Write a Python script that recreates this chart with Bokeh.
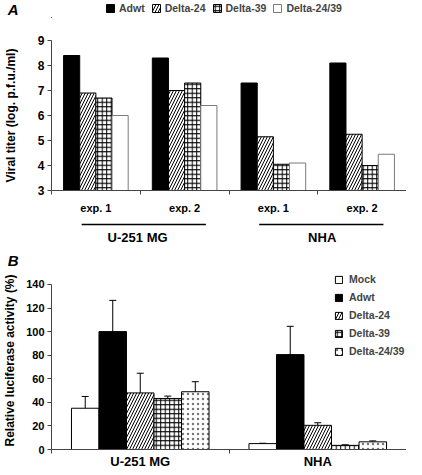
import numpy as np
from bokeh.plotting import figure
from bokeh.models import (Range1d, FixedTicker, Legend, LegendItem,
                          Whisker, TeeHead, ColumnDataSource)
from bokeh.layouts import column
from bokeh.embed import file_html
from bokeh.resources import INLINE

FONT = "Liberation Sans"

# ---------------- Panel A data ----------------
a_exp_labels = ["exp. 1", "exp. 2", "exp. 1", "exp. 2"]
a_cell_lines = ["U-251 MG", "NHA"]
a_series = ["Adwt", "Delta-24", "Delta-39", "Delta-24/39"]
a_adwt = [8.4, 8.3, 7.3, 8.1]
a_delta24 = [6.9, 7.0, 5.15, 5.25]
a_delta39 = [6.7, 7.3, 4.05, 4.0]
a_delta2439 = [6.0, 6.4, 4.1, 4.45]
a_yticks = [3, 4, 5, 6, 7, 8, 9]
a_ylabel = "Viral titer (log. p.f.u./ml)"

# ---------------- Panel B data ----------------
b_cell_lines = ["U-251 MG", "NHA"]
b_series = ["Mock", "Adwt", "Delta-24", "Delta-39", "Delta-24/39"]
b_mock = [35, 5]
b_mock_err = [10, 0.3]
b_adwt = [100, 80.5]
b_adwt_err = [26.5, 24]
b_delta24 = [48, 20.5]
b_delta24_err = [16.7, 2.2]
b_delta39 = [43.3, 3.5]
b_delta39_err = [2, 0.5]
b_delta2439 = [49, 6.5]
b_delta2439_err = [8.5, 0.8]
b_yticks = [0, 20, 40, 60, 80, 100, 120, 140]
b_ylabel = "Relative luciferase activity (%)"

AXIS_COLOR = "#444444"
LEFT = 46

STY_BLACK = dict(fill_color="black", line_color="black")
STY_DIAG = dict(fill_color="white", line_color="black", hatch_pattern="/",
                hatch_scale=6, hatch_weight=1, hatch_color="black")
STY_GRID = dict(fill_color="white", line_color="black", hatch_pattern="+",
                hatch_scale=4.5, hatch_weight=1, hatch_color="black")
STY_DOTS = dict(fill_color="white", line_color="black", hatch_pattern=".",
                hatch_scale=5, hatch_weight=0.5, hatch_color="#777777")
STY_WHITE_GRAY = dict(fill_color="white", line_color="#7a7a7a")
STY_WHITE = dict(fill_color="white", line_color="black")


def style_common(p):
    p.outline_line_color = None
    p.xgrid.visible = False
    p.ygrid.visible = False
    for ax in (p.xaxis[0], p.yaxis[0]):
        ax.axis_line_color = AXIS_COLOR
        ax.major_tick_line_color = AXIS_COLOR
        ax.minor_tick_line_color = AXIS_COLOR
        ax.major_label_text_font = FONT
        ax.major_label_text_font_style = "bold"
        ax.major_label_text_color = "black"
        ax.axis_label_text_font = FONT
        ax.axis_label_text_font_style = "bold"
        ax.axis_label_text_color = "black"


def strip(height, x_range, letter, letter_y):
    """Full-width strip sharing the panel's x scale; the panel letter is the
    single tick label of its (line-less) left axis."""
    s = figure(width=406, height=height, x_range=x_range, y_range=Range1d(0, height),
               output_backend="svg", toolbar_location=None, title_location=None,
               x_axis_location=None,
               min_border_left=LEFT, min_border_right=0, min_border_top=0, min_border_bottom=0)
    s.outline_line_color = None
    s.xgrid.visible = False
    s.ygrid.visible = False
    ax = s.yaxis[0]
    ax.ticker = FixedTicker(ticks=[letter_y], minor_ticks=[])
    ax.major_label_overrides = {float(letter_y): letter}
    ax.axis_line_color = None
    ax.major_tick_line_color = None
    ax.major_tick_out = 0
    ax.major_tick_in = 0
    ax.major_label_standoff = 33
    ax.major_label_text_font = FONT
    ax.major_label_text_font_style = "bold italic"
    ax.major_label_text_font_size = "15px"
    ax.major_label_text_color = "black"
    return s


a_values = [a_adwt, a_delta24, a_delta39, a_delta2439]
a_styles = [STY_BLACK, STY_DIAG, STY_GRID, STY_WHITE_GRAY]

xrA = Range1d(0, 4)

# ================= header of panel A: letter + legend =================
pA0 = strip(18, xrA, "A", 9.5)
a_items = []
for name, sty in zip(a_series, a_styles):
    # legend-only key glyphs, placed outside the visible x range
    r = pA0.vbar(x=[-5], top=[1], bottom=0, width=0.1, line_width=1, **sty)
    a_items.append(LegendItem(label=name, renderers=[r]))
legA = Legend(items=a_items, orientation="horizontal", location=(54, 4),
              glyph_width=10, glyph_height=10, label_standoff=4, spacing=6,
              padding=0, margin=0, border_line_color=None, background_fill_alpha=0,
              label_text_font=FONT, label_text_font_style="bold",
              label_text_font_size="10.5px", label_height=12, label_width=10)
pA0.add_layout(legA)

# ================= Panel A =================
pA = figure(width=406, height=201, x_range=xrA, y_range=Range1d(3, 9),
            output_backend="svg", toolbar_location=None, title_location=None,
            min_border_left=LEFT, min_border_right=0, min_border_top=22, min_border_bottom=29)
style_common(pA)

a_bw = 0.182
a_centers = np.arange(len(a_exp_labels)) + 0.5
for i, (vals, sty) in enumerate(zip(a_values, a_styles)):
    xs = a_centers + (i - 1.5) * a_bw
    pA.vbar(x=xs, top=vals, bottom=3, width=a_bw, line_width=1, **sty)

xa = pA.xaxis[0]
xa.ticker = FixedTicker(ticks=list(a_centers), minor_ticks=list(range(len(a_exp_labels) + 1)))
xa.major_label_overrides = {float(c): lab for c, lab in zip(a_centers, a_exp_labels)}
xa.major_tick_out = 0
xa.major_tick_in = 0
xa.minor_tick_out = 4
xa.minor_tick_in = 0
xa.major_label_standoff = 7
xa.major_label_text_font_size = "11px"

ya = pA.yaxis[0]
ya.ticker = FixedTicker(ticks=a_yticks, minor_ticks=[])
ya.major_tick_out = 4
ya.major_tick_in = 0
ya.major_label_standoff = 3
ya.major_label_text_font_size = "12px"
ya.axis_label = a_ylabel
ya.axis_label_text_font_size = "12px"
ya.axis_label_standoff = 17

# ===== strip under panel A: cell-line brackets and names, plus letter B =====
pA2 = strip(52, xrA, "B", 5.5)
grp_idx = np.arange(len(a_cell_lines)) * 2
pA2.segment(x0=grp_idx + 0.34, x1=grp_idx + 1.74, y0=47, y1=47,
            line_color="black", line_width=1.6)
pA2.text(x=grp_idx + 0.97 + 0.08 * np.arange(len(a_cell_lines)), y=34, text=a_cell_lines,
         text_align="center", text_baseline="middle", text_font={"value": FONT},
         text_font_style="bold", text_font_size="13px", text_color="black")

# ================= Panel B =================
pB = figure(width=406, height=204, x_range=Range1d(0, 2), y_range=Range1d(0, 151),
            output_backend="svg", toolbar_location=None, title_location=None,
            min_border_left=LEFT, min_border_right=0, min_border_top=0, min_border_bottom=26)
style_common(pB)

b_values = [b_mock, b_adwt, b_delta24, b_delta39, b_delta2439]
b_errors = [b_mock_err, b_adwt_err, b_delta24_err, b_delta39_err, b_delta2439_err]
b_styles = [STY_WHITE, STY_BLACK, STY_DIAG, STY_GRID, STY_DOTS]
b_bw = 0.155
b_centers = np.arange(len(b_cell_lines)) + 0.5
b_items = []
for i, (name, vals, errs, sty) in enumerate(zip(b_series, b_values, b_errors, b_styles)):
    xs = b_centers + (i - 2) * b_bw
    r = pB.vbar(x=xs, top=vals, bottom=0, width=b_bw, line_width=1, **sty)
    b_items.append(LegendItem(label=name, renderers=[r]))
    src = ColumnDataSource(dict(x=xs, upper=np.array(vals) + np.array(errs),
                                lower=np.array(vals) - np.array(errs)))
    pB.add_layout(Whisker(source=src, base="x", upper="upper", lower="lower",
                          line_color="black", line_width=1,
                          upper_head=TeeHead(size=7, line_color="black", line_width=1),
                          lower_head=TeeHead(size=7, line_color="black", line_width=1)))

xb = pB.xaxis[0]
xb.ticker = FixedTicker(ticks=list(b_centers), minor_ticks=list(range(len(b_cell_lines) + 1)))
xb.major_label_overrides = {float(c): lab for c, lab in zip(b_centers, b_cell_lines)}
xb.major_tick_out = 0
xb.major_tick_in = 0
xb.minor_tick_out = 4
xb.minor_tick_in = 0
xb.major_label_standoff = 0
xb.major_label_text_font_size = "13px"

yb = pB.yaxis[0]
yb.ticker = FixedTicker(ticks=b_yticks, minor_ticks=[])
yb.bounds = (b_yticks[0], b_yticks[-1])
yb.major_tick_out = 4
yb.major_tick_in = 0
yb.major_label_standoff = 3
yb.major_label_text_font_size = "11px"
yb.axis_label = b_ylabel
yb.axis_label_text_font_size = "12px"
yb.axis_label_standoff = 6

legB = Legend(items=b_items, orientation="vertical", location=(283, 91),
              glyph_width=9, glyph_height=9, label_standoff=6, spacing=4,
              padding=0, margin=0, border_line_color=None, background_fill_alpha=0,
              label_text_font=FONT, label_text_font_style="bold",
              label_text_font_size="10.5px", label_height=14, label_width=10)
pB.add_layout(legB)

layout = column(pA0, pA, pA2, pB, spacing=0)
open("out.html", "w").write(file_html(layout, INLINE))
